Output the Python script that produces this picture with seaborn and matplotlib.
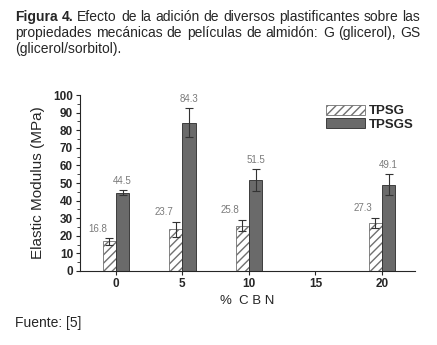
import pandas as pd
import numpy as np
import matplotlib
matplotlib.use("Agg")
import matplotlib.pyplot as plt
import seaborn as sns
from matplotlib.patches import Patch

# data
cbn = [0, 5, 10, 20]
tpsg = [16.8, 23.7, 25.8, 27.3]
tpsg_err = [1.9, 4.3, 3.3, 2.9]
tpsgs = [44.5, 84.3, 51.5, 49.1]
tpsgs_err = [1.5, 8.2, 6.3, 6.0]
series = ["TPSG", "TPSGS"]
xticks = [0, 5, 10, 15, 20]

df = pd.DataFrame({
    "cbn": cbn * 2,
    "series": [series[0]] * len(cbn) + [series[1]] * len(cbn),
    "value": tpsg + tpsgs,
})

sns.set_style("ticks")
plt.rcParams["font.family"] = ["Liberation Sans", "DejaVu Sans"]

fig = plt.figure(figsize=(4.37, 3.45), dpi=100)
ax = fig.add_axes([0.183, 0.2145, 0.767, 0.51])

sns.barplot(data=df, x="cbn", y="value", hue="series", native_scale=True,
            width=0.4, errorbar=None, legend=False, ax=ax,
            palette={"TPSG": "white", "TPSGS": "#6a6a6a"})

n = len(cbn)
for i, p in enumerate(ax.patches[:2 * n]):
    if i < n:
        p.set_hatch("////")
        p.set_edgecolor("#707070")
    else:
        p.set_edgecolor("#2a2a2a")
    p.set_linewidth(0.6)

bars = ax.patches[:2 * n]
centers = [p.get_x() + p.get_width() / 2 for p in bars]
vals = tpsg + tpsgs
errs = tpsg_err + tpsgs_err
ax.errorbar(centers, vals, yerr=errs, fmt="none", ecolor="#333333",
            elinewidth=0.8, capsize=3.2, capthick=0.8, zorder=5)

for i, (c, v, e) in enumerate(zip(centers, vals, errs)):
    dx = -0.9 if i < n else 0.0
    ax.text(c + dx, v + e + 2.5, f"{v:.1f}", ha="center", va="bottom",
            fontsize=7, color="#7a7a7a")

ax.set_xlim(-2.7, 22.5)
ax.set_ylim(0, 100)
ax.set_xticks(xticks)
ax.set_xticklabels([str(t) for t in xticks], fontweight="bold", fontsize=8.5)
ax.set_yticks(range(0, 101, 10))
ax.set_yticks(range(5, 100, 10), minor=True)
ax.tick_params(axis="y", labelsize=8.5, length=3, width=0.8, pad=2)
ax.tick_params(axis="y", which="minor", length=2, width=0.6)
ax.tick_params(axis="x", length=3, width=0.8, pad=2)
for lab in ax.get_yticklabels():
    lab.set_fontweight("bold")
sns.despine(ax=ax)
ax.spines["left"].set_linewidth(0.8)
ax.spines["bottom"].set_linewidth(0.8)

ax.set_xlabel("%  C B N", fontsize=9.5, labelpad=4)
ax.set_ylabel("Elastic Modulus (MPa)", fontsize=11, labelpad=6)

handles = [Patch(facecolor="white", edgecolor="#707070", hatch="////", linewidth=0.6),
           Patch(facecolor="#6a6a6a", edgecolor="#2a2a2a", linewidth=0.6)]
leg = ax.legend(handles, series, loc="upper right", bbox_to_anchor=(1.02, 0.99),
                frameon=False, fontsize=9.5, handlelength=3.0, handleheight=0.8,
                handletextpad=0.3, labelspacing=0.05, borderaxespad=0.2)
for t in leg.get_texts():
    t.set_fontweight("bold")

# caption, first two lines justified between x=15 and x=420 px
cap_lines = [
    [("Figura", "bold"), ("4.", "bold"), ("Efecto", "normal"), ("de", "normal"),
     ("la", "normal"), ("adición", "normal"), ("de", "normal"), ("diversos", "normal"),
     ("plastificantes", "normal"), ("sobre", "normal"), ("las", "normal")],
    [(w, "normal") for w in
     "propiedades mecánicas de películas de almidón: G (glicerol), GS".split()],
    [("(glicerol/sorbitol).", "normal")],
]
cap_y = [17, 33, 48.5]
x0, x1 = 15, 420
renderer = fig.canvas.get_renderer()
for li, (words, yy) in enumerate(zip(cap_lines, cap_y)):
    texts = [fig.text(0, 1 - yy / 345, w, fontsize=10, fontweight=fw,
                      va="center", ha="left") for w, fw in words]
    widths = [t.get_window_extent(renderer).width for t in texts]
    if li < 2:
        gap = (x1 - x0 - sum(widths)) / (len(words) - 1)
    else:
        gap = 0
    x = x0
    for t, w in zip(texts, widths):
        t.set_x(x / 437)
        x += w + gap

fig.text(15 / 437, 1 - 323 / 345, "Fuente: [5]", fontsize=10,
         va="center", ha="left")

fig.savefig("out.png", dpi=100)
